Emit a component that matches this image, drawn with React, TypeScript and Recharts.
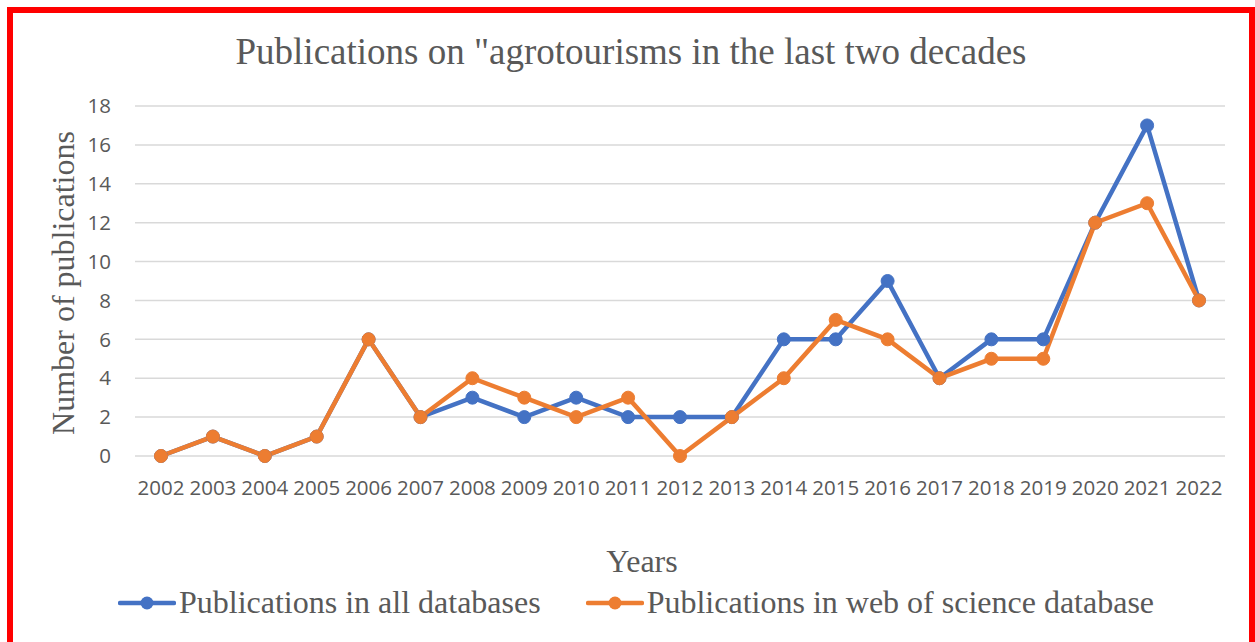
import { LineChart, Line, XAxis, YAxis, CartesianGrid } from "recharts";

const years = [
    "2002", "2003", "2004", "2005", "2006", "2007", "2008",
    "2009", "2010", "2011", "2012", "2013", "2014", "2015",
    "2016", "2017", "2018", "2019", "2020", "2021", "2022",
];
const allDatabases = [0, 1, 0, 1, 6, 2, 3, 2, 3, 2, 2, 2, 6, 6, 9, 4, 6, 6, 12, 17, 8];
const webOfScience = [0, 1, 0, 1, 6, 2, 4, 3, 2, 3, 0, 2, 4, 7, 6, 4, 5, 5, 12, 13, 8];
const yTicks = [0, 2, 4, 6, 8, 10, 12, 14, 16, 18];

const series = [
    { key: "all", name: "Publications in all databases", color: "#4472C4" },
    { key: "wos", name: "Publications in web of science database", color: "#ED7D31" },
];

const chartData = years.map((year, i) => ({
    year,
    all: allDatabases[i],
    wos: webOfScience[i],
}));

const textColor = "#595959";
const serif = "'Liberation Serif', 'Times New Roman', serif";
const sans = "'Open Sans', sans-serif";

const YLabel = () => (
    <text
        x={63}
        y={283}
        transform="rotate(-90 63 283)"
        textAnchor="middle"
        dominantBaseline="central"
        fill={textColor}
        style={{ fontFamily: serif, fontSize: 32 }}
    >
        Number of publications
    </text>
);

const XLabel = () => (
    <text
        x={642}
        y={561}
        textAnchor="middle"
        dominantBaseline="central"
        fill={textColor}
        style={{ fontFamily: serif, fontSize: 32 }}
    >
        Years
    </text>
);

const LegendIcon = ({ color }: { color: string }) => (
    <svg width={58} height={20} style={{ marginRight: 3 }}>
        <line x1={2} y1={10} x2={56} y2={10} stroke={color} strokeWidth={4.5} strokeLinecap="round" />
        <circle cx={29} cy={10} r={6.5} fill={color} />
    </svg>
);

export default function App() {
    return (
        <div style={{ position: "absolute", left: 0, top: 0, width: 1255, height: 642, overflow: "hidden", background: "#fff" }}>
            <div
                style={{
                    position: "absolute", left: 7, top: 7, width: 1248, height: 700,
                    border: "6px solid #ff0000", boxSizing: "border-box",
                }}
            />
            <div
                style={{
                    position: "absolute", left: 0, top: 30, width: 1262, textAlign: "center",
                    fontFamily: serif, fontSize: 37, color: textColor, lineHeight: "44px",
                }}
            >
                Publications on "agrotourisms in the last two decades
            </div>
            <div style={{ position: "absolute", left: 0, top: 0 }}>
                <LineChart width={1255} height={642} data={chartData} margin={{ top: 106, right: 30, left: 0, bottom: 146 }}>
                    <CartesianGrid vertical={false} stroke="#d9d9d9" strokeWidth={1.5} />
                    <XAxis
                        dataKey="year"
                        padding={{ left: 26, right: 26 }}
                        axisLine={false}
                        tickLine={false}
                        tickSize={0}
                        tickMargin={24}
                        interval={0}
                        height={40}
                        tick={{ fill: textColor, fontSize: 20.5, fontFamily: sans }}
                        label={<XLabel />}
                    />
                    <YAxis
                        width={135}
                        domain={[0, 18]}
                        ticks={yTicks}
                        axisLine={false}
                        tickLine={false}
                        tickSize={0}
                        tickMargin={24}
                        tick={{ fill: textColor, fontSize: 20.5, fontFamily: sans }}
                        label={<YLabel />}
                    />
                    {series.map((s) => (
                        <Line
                            key={s.key}
                            dataKey={s.key}
                            name={s.name}
                            stroke={s.color}
                            strokeWidth={4.5}
                            dot={{ r: 6.5, fill: s.color, stroke: s.color, strokeWidth: 1 }}
                            isAnimationActive={false}
                        />
                    ))}
                </LineChart>
            </div>
            <div
                style={{
                    position: "absolute", left: 0, top: 584, width: 1272, display: "flex",
                    justifyContent: "center", alignItems: "center", gap: 45,
                    fontFamily: serif, fontSize: 32, color: textColor,
                }}
            >
                {series.map((s) => (
                    <div key={s.key} style={{ display: "flex", alignItems: "center" }}>
                        <LegendIcon color={s.color} />
                        <span>{s.name}</span>
                    </div>
                ))}
            </div>
        </div>
    );
}
